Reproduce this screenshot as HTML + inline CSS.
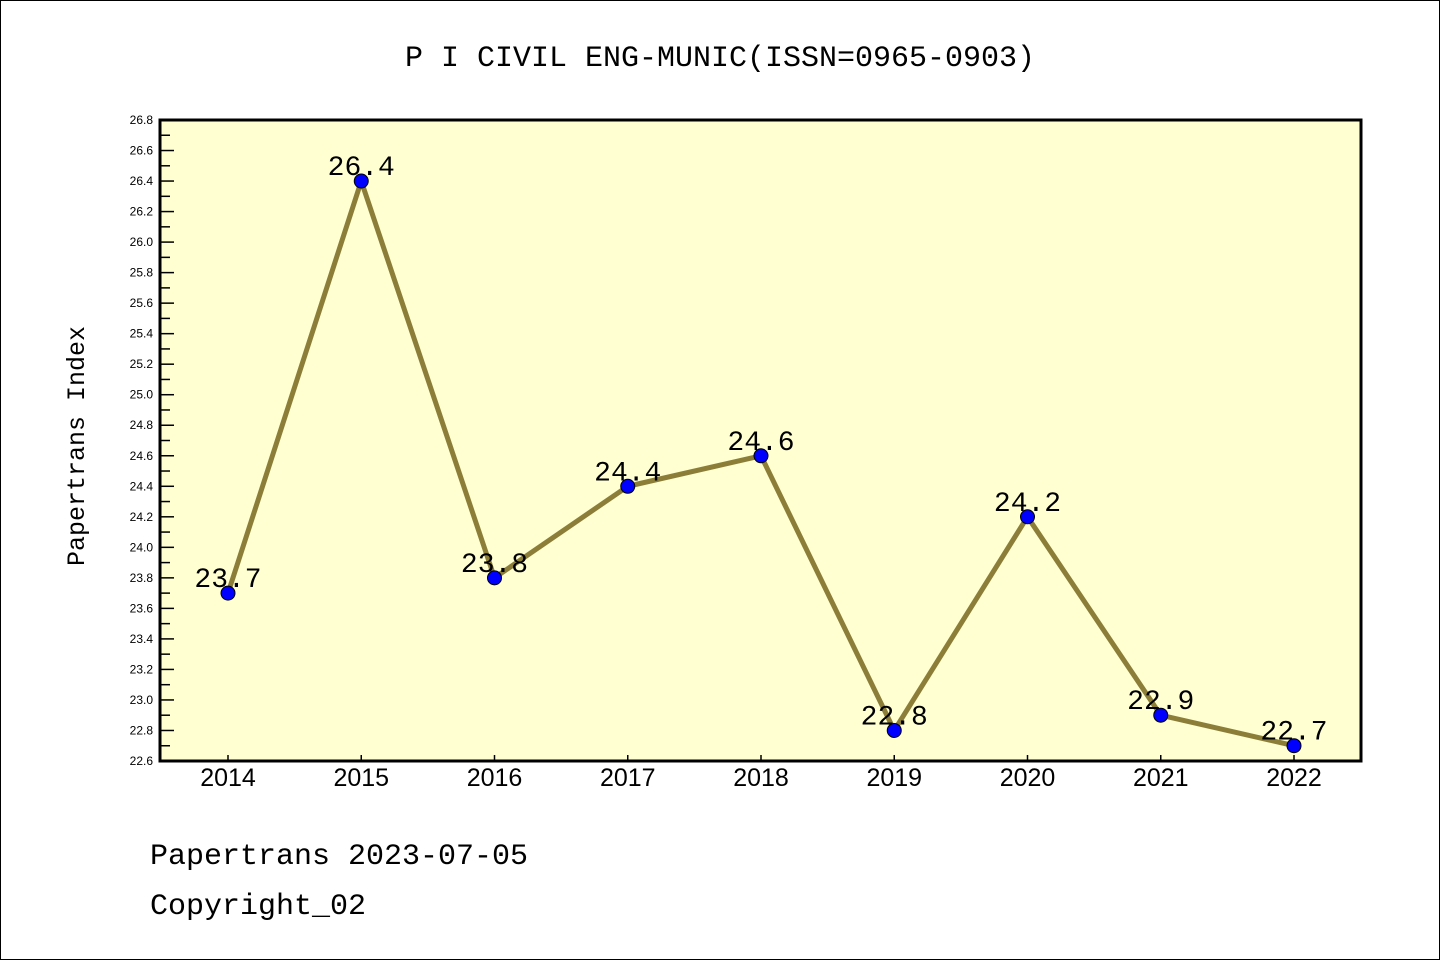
<!DOCTYPE html>
<html><head><meta charset="utf-8"><style>
html,body{margin:0;padding:0;background:#fff}
svg{display:block}
</style></head><body>
<svg width="1440" height="960" xmlns="http://www.w3.org/2000/svg">
<rect x="0.5" y="0.5" width="1439" height="959" fill="#fff" stroke="#000"/>
<text x="720" y="66" text-anchor="middle" font-family="Liberation Mono, monospace" font-size="30" fill="#000">P I CIVIL ENG-MUNIC(ISSN=0965-0903)</text>
<rect x="160" y="120" width="1201" height="641" fill="#ffffd2"/>
<g id="yaxis"></g><g id="xaxis"></g><g id="series"></g>
<rect x="160" y="120" width="1201" height="641" fill="none" stroke="#000" stroke-width="3"/>
<text transform="translate(84,446) rotate(-90)" text-anchor="middle" font-family="Liberation Mono, monospace" font-size="25" fill="#000">Papertrans Index</text>
<text x="150" y="864" font-family="Liberation Mono, monospace" font-size="30" fill="#000">Papertrans 2023-07-05</text>
<text x="150" y="914" font-family="Liberation Mono, monospace" font-size="30" fill="#000">Copyright_02</text>
</svg>
<script>
const categories = ["2014","2015","2016","2017","2018","2019","2020","2021","2022"];
const values = [23.7,26.4,23.8,24.4,24.6,22.8,24.2,22.9,22.7];
const yTicks = ["22.6","22.8","23.0","23.2","23.4","23.6","23.8","24.0","24.2","24.4","24.6","24.8","25.0","25.2","25.4","25.6","25.8","26.0","26.2","26.4","26.6","26.8"];
const NS="http://www.w3.org/2000/svg";
const yMin=22.6,yMax=26.8,plotTop=120,plotBot=761,plotLeft=160;
const x0=228,x1=1294;
function X(i){return x0+(x1-x0)*i/(categories.length-1);}
function Y(v){return plotBot-(v-yMin)/(yMax-yMin)*(plotBot-plotTop);}
function mk(tag,attrs,parent){const e=document.createElementNS(NS,tag);for(const k in attrs)e.setAttribute(k,attrs[k]);parent.appendChild(e);return e;}
const ya=document.getElementById('yaxis'),xa=document.getElementById('xaxis'),sg=document.getElementById('series');
yTicks.forEach((t,i)=>{
  const v=parseFloat(t),y=Y(v);
  const l=mk('line',{x1:plotLeft,x2:plotLeft+14,y1:y,y2:y,stroke:'#000','stroke-width':1.5},ya);
  
  
  const tx=mk('text',{x:153,y:y+4,'text-anchor':'end','font-family':'Liberation Sans, sans-serif','font-size':12,fill:'#000'},ya);
  tx.textContent=t;
  
  
  if(i<yTicks.length-1){
    const ym=Y(v+0.1);
    const m=mk('line',{x1:plotLeft,x2:plotLeft+10,y1:ym,y2:ym,stroke:'#000','stroke-width':1.5},ya);
    
    
  }
});
categories.forEach((c,i)=>{
  const x=X(i);
  const l=mk('line',{x1:x,x2:x,y1:plotBot,y2:plotBot-6,stroke:'#000','stroke-width':1.5},xa);
  
  
  const t=mk('text',{x:x,y:786,'text-anchor':'middle','font-family':'Liberation Sans, sans-serif','font-size':25,fill:'#000'},xa);
  t.textContent=c;
  
  
});
const pts=values.map((v,i)=>X(i)+','+Y(v)).join(' ');
const pl=mk('polyline',{points:pts,fill:'none',stroke:'#8c7e38','stroke-width':5,'stroke-linejoin':'round'},sg);


values.forEach((v,i)=>{
  const c=mk('circle',{cx:X(i),cy:Y(v),r:7,fill:'#0000ff',stroke:'#000','stroke-width':1},sg);
  
  
  const t=mk('text',{x:X(i),y:Y(v)-6,'text-anchor':'middle','font-family':'Liberation Mono, monospace','font-size':28,fill:'#000'},sg);
  t.textContent=v.toFixed(1);
  
  
});
</script>
</body></html>
